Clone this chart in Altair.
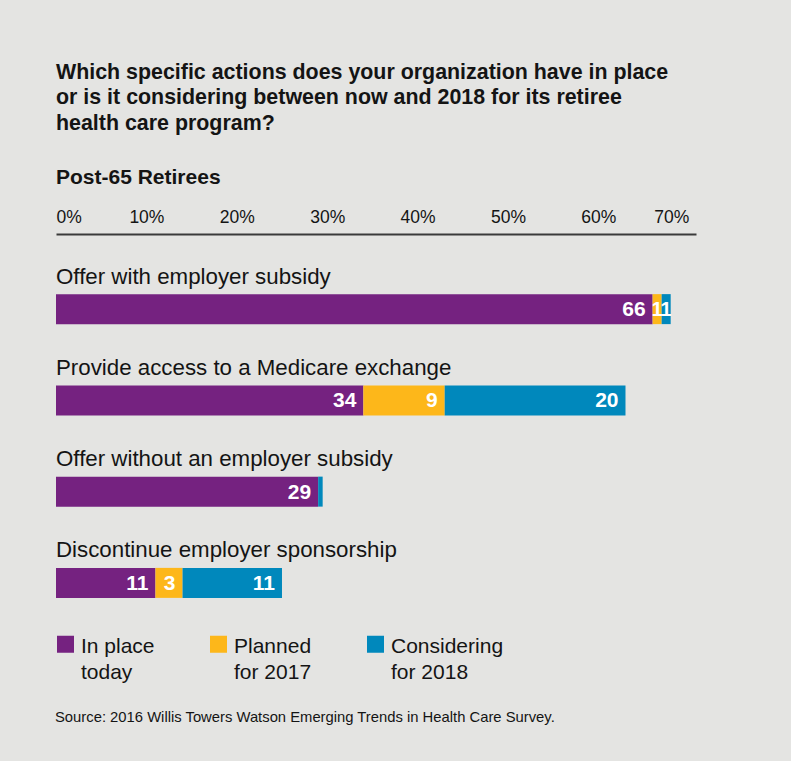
import json
import altair as alt
import pandas as pd

# ---------------- data ----------------
categories = [
    "Offer with employer subsidy",
    "Provide access to a Medicare exchange",
    "Offer without an employer subsidy",
    "Discontinue employer sponsorship",
]
series = ["In place today", "Planned for 2017", "Considering for 2018"]
legend_lines = [["In place", "today"], ["Planned", "for 2017"], ["Considering", "for 2018"]]
in_place = [66, 34, 29, 11]
planned = [1, 9, 0, 3]
considering = [1, 20, 0.5, 11]
colors = ["#752280", "#FDB71A", "#0088BC"]
tick_values = [0, 10, 20, 30, 40, 50, 60, 70]
title_lines = [
    "Which specific actions does your organization have in place",
    "or is it considering between now and 2018 for its retiree",
    "health care program?",
]
subtitle = "Post-65 Retirees"
source = "Source: 2016 Willis Towers Watson Emerging Trends in Health Care Survey."

FONT = "Liberation Sans"
TEXT = "#141414"
BG = "#E4E4E2"

rows = []
for s_idx, (s, vals) in enumerate(zip(series, [in_place, planned, considering])):
    for c, v in zip(categories, vals):
        if v > 0:
            rows.append({"category": c, "series": s, "order": s_idx, "value": v})
df = pd.DataFrame(rows)
cat_df = pd.DataFrame({"category": categories})

label_expr = ""
for s, lines in zip(series, legend_lines):
    label_expr += f"datum.label == {json.dumps(s)} ? {json.dumps(lines)} : "
label_expr += "datum.label"

x_scale = alt.Scale(domain=[0, 70.8], nice=False, zero=True)
y_enc = alt.Y("category:N", sort=categories, axis=None,
              scale=alt.Scale(paddingInner=0, paddingOuter=0))

base = alt.Chart(df).transform_stack(
    stack="value", groupby=["category"], as_=["x0", "x1"],
    sort=[alt.SortField("order", order="ascending")],
).transform_calculate(mid="(datum.x0 + datum.x1) / 2")

BAR_OFF = 29.5

bars = base.mark_bar(height=30, yOffset=BAR_OFF).encode(
    x=alt.X("x0:Q", scale=x_scale,
            axis=alt.Axis(
                orient="top", values=tick_values, labelExpr="datum.value + '%'",
                title=None, ticks=False, tickSize=0, grid=False,
                labelFont=FONT, labelFontSize=17.5, labelColor=TEXT,
                labelPadding=8,
                labelAlign={"condition": [
                    {"test": "datum.value == 0", "value": "left"},
                    {"test": "datum.value == 70", "value": "right"}],
                    "value": "center"},
                labelFlush=False,
                domainColor="#3a3a3a", domainWidth=2,
            )),
    x2="x1:Q",
    y=y_enc,
    color=alt.Color(
        "series:N",
        scale=alt.Scale(domain=series, range=colors),
        legend=alt.Legend(
            orient="none", legendX=-1, legendY=391,
            direction="horizontal", columns=3, columnPadding=53,
            symbolType="M-1,0L1,0L1,2L-1,2Z", symbolSize=289,
            symbolStrokeWidth=0, symbolOpacity=1,
            labelFont=FONT, labelFontSize=21, labelColor=TEXT,
            labelBaseline="top", labelOffset=5, labelLimit=300,
            labelExpr=label_expr,
            title=source, titleOrient="bottom", titleAnchor="start",
            titleFont=FONT, titleFontSize=14.8, titleFontWeight="normal",
            titleColor=TEXT, titlePadding=27, titleLimit=760,
            padding=0,
        ),
    ),
)

big_labels = base.transform_filter("datum.value >= 2").mark_text(
    align="right", baseline="middle", dx=-7, dy=BAR_OFF + 1,
    font=FONT, fontSize=21, fontWeight="bold", color="white",
).encode(x=alt.X("x1:Q", scale=x_scale), y=y_enc, text=alt.Text("value:Q"))

small_labels = base.transform_filter("datum.value >= 1 && datum.value < 2").mark_text(
    align="center", baseline="middle", dy=BAR_OFF + 1,
    font=FONT, fontSize=20, fontWeight="bold", color="white",
).encode(x=alt.X("mid:Q", scale=x_scale), y=y_enc, text=alt.Text("value:Q"))

cat_labels = alt.Chart(cat_df).mark_text(
    align="left", baseline="alphabetic", dy=4,
    font=FONT, fontSize=22.3, color=TEXT,
).encode(x=alt.datum(0), y=y_enc, text="category:N")

chart = alt.layer(bars, big_labels, small_labels, cat_labels).properties(
    width=640, height=365,
    autosize=alt.AutoSizeParams(type="none"),
    padding={"left": 56, "top": 234, "right": 95, "bottom": 162},
    background=BG,
    title=alt.TitleParams(
        text=title_lines, subtitle=subtitle, anchor="start", frame="group",
        font=FONT, fontSize=21.4, fontWeight="bold", color=TEXT, lineHeight=25.2,
        subtitleFont=FONT, subtitleFontSize=21, subtitleFontWeight="bold",
        subtitleColor=TEXT, subtitlePadding=33, offset=20,
    ),
).configure(
    style={"guide-label": {"lineHeight": 26}}
).configure_view(stroke=None)

chart.save("out.html", embed_options={"renderer": "svg", "actions": False})
